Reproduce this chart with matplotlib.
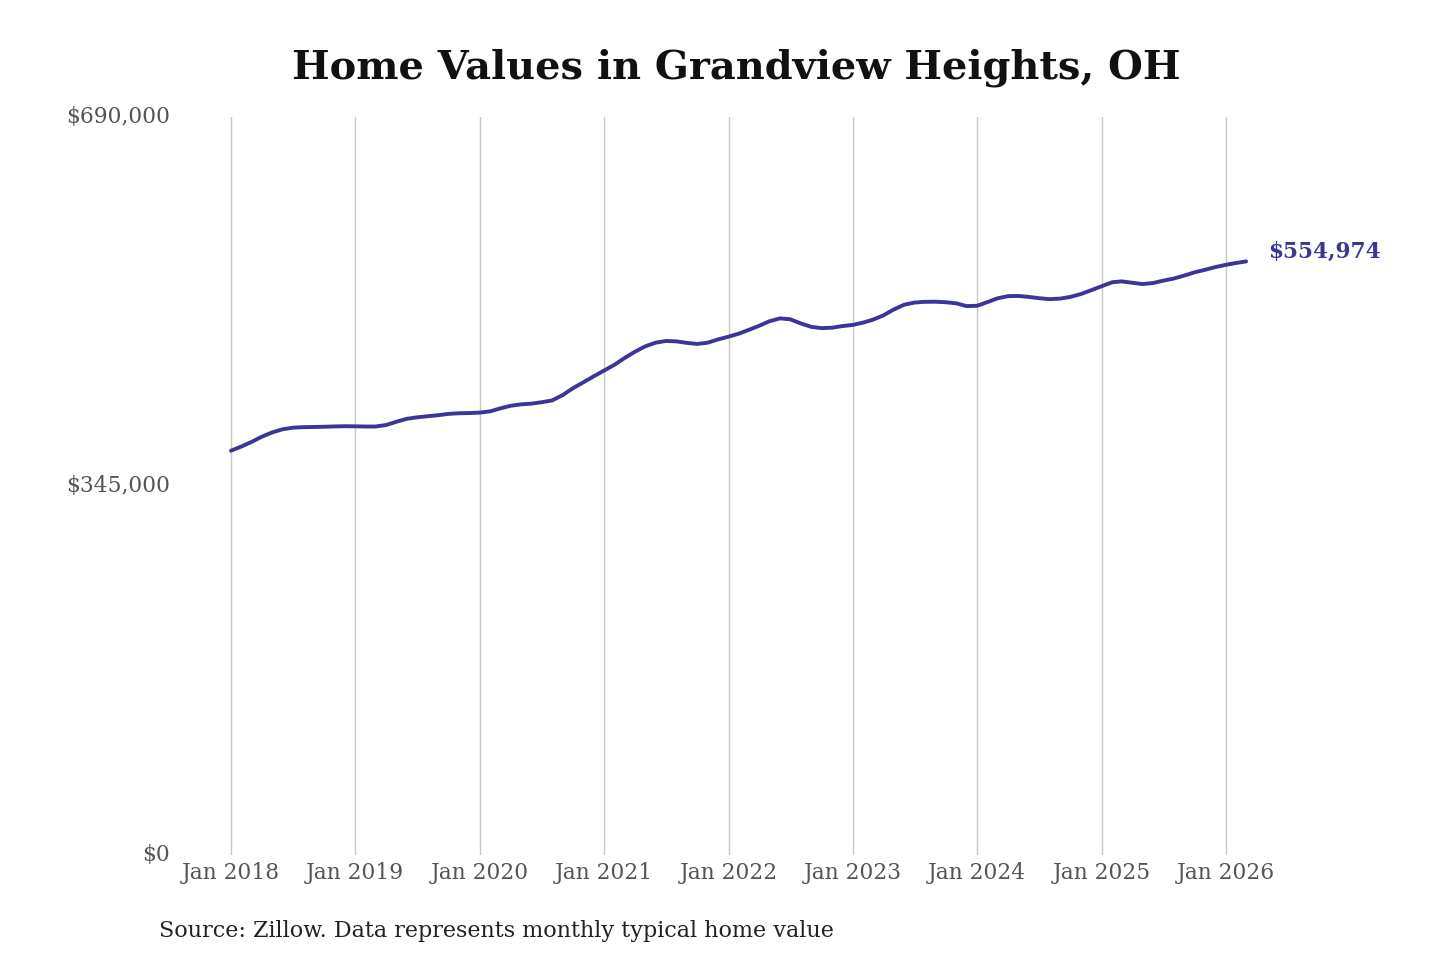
import pandas as pd
import matplotlib
matplotlib.use("Agg")
import matplotlib.pyplot as plt
import matplotlib.dates as mdates
from matplotlib.ticker import FuncFormatter

# monthly typical home value, Jan 2018 .. Mar 2026
start_month = "2018-01-01"
home_values = [
    378000, 382000, 386000, 391000, 395000, 398000, 399500, 400000, 400200, 400400,
    400700, 400900, 400800, 400600, 400600, 402000, 405000, 407800, 409200, 410200,
    411200, 412400, 413000, 413200, 413600, 414800, 417500, 420000, 421300, 422000,
    423300, 425000, 430000, 436400, 442000, 447500, 453000, 458500, 464500, 470500,
    475500, 479000, 480600, 480200, 478800, 477800, 479000, 482000, 484600, 487500,
    490900, 494800, 499000, 501700, 500900, 497000, 493800, 492600, 493000, 494500,
    495600, 497800, 500500, 504500, 510000, 514500, 516500, 517200, 517300, 516800,
    515800, 513200, 513500, 517000, 520500, 522500, 522700, 521800, 520600, 519700,
    520200, 521800, 524500, 528000, 531800, 535500, 536300, 535000, 533800, 534800,
    537000, 539000, 541800, 544800, 547200, 549700, 551800, 553600, 554974,
]
y_ticks = [0, 345000, 690000]
x_tick_years = list(range(2018, 2027))

title = "Home Values in Grandview Heights, OH"
source = "Source: Zillow. Data represents monthly typical home value"
line_color = "#3b3499"

dates = pd.date_range(start_month, periods=len(home_values), freq="MS")

plt.rcParams["font.family"] = ["DejaVu Serif"]

fig = plt.figure(figsize=(14.4, 9.6), dpi=100)
W, H = 1440, 960
ax = fig.add_axes([178 / W, (H - 855) / H, (1262 - 178) / W, (855 - 117) / H])

ax.plot(dates, home_values, color=line_color, lw=2.8, solid_capstyle="round",
        solid_joinstyle="round", zorder=3)

# x scale: Jan 2018 at px 231, Jan 2026 at px 1226
d0 = mdates.date2num(pd.Timestamp("2018-01-01"))
d1 = mdates.date2num(pd.Timestamp("2026-01-01"))
per_px = (d1 - d0) / (1226 - 231)
ax.set_xlim(d0 - (231 - 178) * per_px, d1 + (1262 - 1226) * per_px)
ax.set_ylim(0, 690000)

xt = [pd.Timestamp(f"{y}-01-01") for y in x_tick_years]
ax.set_xticks(xt)
ax.set_xticklabels([f"Jan {y}" for y in x_tick_years])
ax.set_yticks(y_ticks)
ax.yaxis.set_major_formatter(FuncFormatter(lambda v, p: f"${v:,.0f}"))

ax.grid(axis="x", color="#c8c8c8", lw=1.0)
ax.grid(axis="y", visible=False)
for s in ax.spines.values():
    s.set_visible(False)
ax.tick_params(axis="both", length=0, labelsize=15.7, labelcolor="#555555")
ax.tick_params(axis="x", pad=5)
ax.tick_params(axis="y", pad=6)
for lbl in ax.get_yticklabels():
    lbl.set_verticalalignment("center")

ax.annotate(f"${home_values[-1]:,}", xy=(dates[-1], home_values[-1]),
            xytext=(16, 7), textcoords="offset points", ha="left", va="center",
            fontsize=15.6, fontweight="bold", color=line_color)

fig.text(736 / W, 1 - 68 / H, title, ha="center", va="center",
         fontsize=28.7, fontweight="bold", color="#111111")
fig.text(159 / W, 1 - 931 / H, source, ha="left", va="center",
         fontsize=16, color="#222222")

fig.savefig("out.png", dpi=100, facecolor="white")
